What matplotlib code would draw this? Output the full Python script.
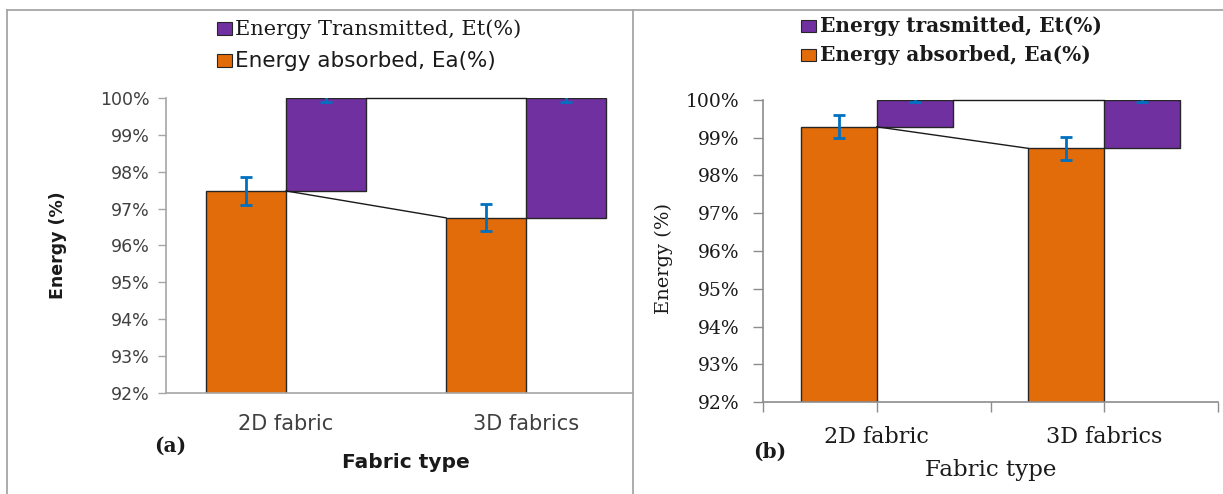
import matplotlib
matplotlib.use("Agg")
import matplotlib.pyplot as plt
from matplotlib.lines import Line2D
from matplotlib.patches import Rectangle
import numpy as np

# ---- data ----
categories = ["2D fabric", "3D fabrics"]

# panel (a)
absorbed_a = [97.48, 96.75]          # Ea (%)
absorbed_a_err = [0.37, 0.37]
transmitted_a_err = [0.11, 0.11]

# panel (b)
absorbed_b = [99.29, 98.72]          # Ea (%)
absorbed_b_err = [0.30, 0.30]
transmitted_b_err = [0.05, 0.05]

yticks = [92, 93, 94, 95, 96, 97, 98, 99, 100]

ORANGE = "#E36C0A"
PURPLE = "#7030A0"
ERRBLUE = "#0070C0"

W, H = 1223, 494
fig = plt.figure(figsize=(W / 100, H / 100), dpi=100)


def fx(px):
    return px / W


def fy(py):
    return 1 - py / H


def add_axes(x0, x1, ytop, ybot):
    return fig.add_axes([fx(x0), fy(ybot), fx(x1) - fx(x0), fy(ytop) - fy(ybot)])


def draw_panel(ax, absorbed, a_err, t_err, width):
    x = np.arange(len(categories))
    transmitted = [100 - v for v in absorbed]
    ax.bar(x - width / 2, absorbed, width, bottom=0, color=ORANGE,
           edgecolor="#262626", linewidth=1.0, zorder=2)
    ax.bar(x + width / 2, transmitted, width, bottom=absorbed, color=PURPLE,
           edgecolor="#262626", linewidth=1.0, zorder=2)
    # series lines joining the stacked segments
    ax.plot([x[0], x[1] - width], [absorbed[0], absorbed[1]],
            color="#1a1a1a", lw=1.0, zorder=3)
    tops = [a + t for a, t in zip(absorbed, transmitted)]
    ax.plot([x[0] + width, x[1]], [tops[0], tops[1]],
            color="#1a1a1a", lw=1.0, zorder=3, clip_on=False)
    ax.errorbar(x - width / 2, absorbed, yerr=a_err, fmt="none",
                ecolor=ERRBLUE, elinewidth=2.0, capsize=4.5, capthick=2.0, zorder=4)
    ax.errorbar(x + width / 2, tops, yerr=t_err, fmt="none",
                ecolor=ERRBLUE, elinewidth=2.0, capsize=4.5, capthick=2.0, zorder=4)
    ax.set_ylim(92, 100)
    ax.set_yticks(yticks)
    ax.set_yticklabels([f"{v}%" for v in yticks])
    for s in ("top", "right"):
        ax.spines[s].set_visible(False)


# ---------------- panel (a) ----------------
axa = add_axes(166, 633, 98, 393)
draw_panel(axa, absorbed_a, absorbed_a_err, transmitted_a_err, 1 / 3)
axa.set_xlim(-0.5, (633 - 286) / 240)
axa.set_xticks(range(len(categories)))
axa.set_xticklabels(categories, family="DejaVu Sans", fontsize=15, color="#404040")
axa.tick_params(axis="x", length=0, pad=15)
axa.tick_params(axis="y", length=6, width=1.0, color="#A6A6A6", pad=6,
                labelsize=12.5, labelcolor="#404040")
for lab in axa.get_yticklabels():
    lab.set_family("DejaVu Sans")
for s in ("left", "bottom"):
    axa.spines[s].set_color("#A6A6A6")
    axa.spines[s].set_linewidth(1.2)

fig.text(fx(58), fy(245), "Energy (%)", rotation=90, ha="center", va="center",
         family="DejaVu Sans", fontweight="bold", fontsize=12.5, color="#1a1a1a")
fig.text(fx(406), fy(462), "Fabric type", ha="center", va="center",
         family="DejaVu Sans", fontweight="bold", fontsize=14.5, color="#1a1a1a")
fig.text(fx(170), fy(446), "(a)", ha="center", va="center",
         family="DejaVu Serif", fontweight="bold", fontsize=14.5, color="#1a1a1a")

# legend (a)
fig.patches.append(Rectangle((fx(217), fy(35)), fx(15), fy(22) - fy(35),
                             transform=fig.transFigure, facecolor=PURPLE,
                             edgecolor="#262626", lw=0.8))
fig.patches.append(Rectangle((fx(217), fy(67)), fx(15), fy(54) - fy(67),
                             transform=fig.transFigure, facecolor=ORANGE,
                             edgecolor="#262626", lw=0.8))
fig.text(fx(235), fy(29), "Energy Transmitted, Et(%)", ha="left", va="center",
         family="DejaVu Serif", fontsize=15, color="#1a1a1a")
fig.text(fx(235), fy(61), "Energy absorbed, Ea(%)", ha="left", va="center",
         family="DejaVu Sans", fontsize=15.5, color="#1a1a1a")

# ---------------- panel (b) ----------------
axb = add_axes(763, 1218, 100, 402)
draw_panel(axb, absorbed_b, absorbed_b_err, transmitted_b_err, 76 / 227)
axb.set_xlim(-0.5, 1.5)
axb.set_xticks(range(len(categories)))
axb.set_xticks([-0.5, 0.5, 1.5], minor=True)
axb.set_xticklabels(categories, family="DejaVu Serif", fontsize=16, color="#1a1a1a")
axb.tick_params(axis="x", which="both", length=7, width=1.0, color="#8C8C8C", pad=10)
axb.tick_params(axis="y", length=7, width=1.0, color="#8C8C8C", pad=10,
                labelsize=13.5, labelcolor="#1a1a1a")
for lab in axb.get_yticklabels():
    lab.set_family("DejaVu Serif")
for s in ("left", "bottom"):
    axb.spines[s].set_color("#8C8C8C")
    axb.spines[s].set_linewidth(1.2)

fig.text(fx(664), fy(258), "Energy (%)", rotation=90, ha="center", va="center",
         family="DejaVu Serif", fontsize=14, color="#1a1a1a")
fig.text(fx(991), fy(470), "Fabric type", ha="center", va="center",
         family="DejaVu Serif", fontsize=16.5, color="#1a1a1a")
fig.text(fx(770), fy(452), "(b)", ha="center", va="center",
         family="DejaVu Serif", fontweight="bold", fontsize=14.5, color="#1a1a1a")

# legend (b)
fig.patches.append(Rectangle((fx(801), fy(32)), fx(15), fy(20) - fy(32),
                             transform=fig.transFigure, facecolor=PURPLE,
                             edgecolor="#262626", lw=0.8))
fig.patches.append(Rectangle((fx(801), fy(61)), fx(15), fy(49) - fy(61),
                             transform=fig.transFigure, facecolor=ORANGE,
                             edgecolor="#262626", lw=0.8))
fig.text(fx(820), fy(26), "Energy trasmitted, Et(%)", ha="left", va="center",
         family="DejaVu Serif", fontweight="bold", fontsize=14.5, color="#1a1a1a")
fig.text(fx(820), fy(55), "Energy absorbed, Ea(%)", ha="left", va="center",
         family="DejaVu Serif", fontweight="bold", fontsize=14.5, color="#1a1a1a")

# panel frames
frame_kw = dict(transform=fig.transFigure, color="#A6A6A6", lw=1.3)
fig.add_artist(Line2D([fx(7), fx(7)], [fy(10), fy(494)], **frame_kw))
fig.add_artist(Line2D([fx(7), fx(1223)], [fy(10), fy(10)], **frame_kw))
fig.add_artist(Line2D([fx(633), fx(633)], [fy(10), fy(494)], **frame_kw))

fig.savefig("out.png", dpi=100)
